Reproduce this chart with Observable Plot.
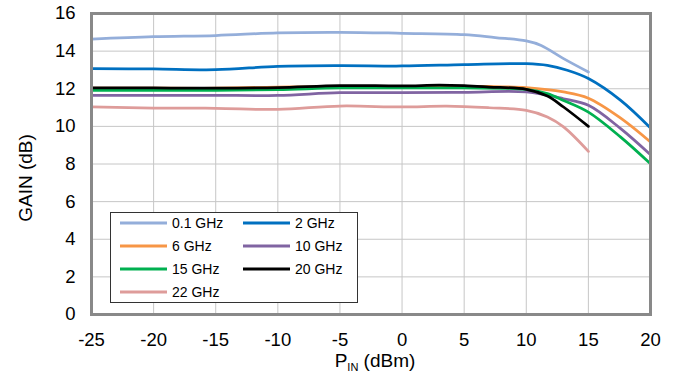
<!DOCTYPE html>
<html>
<head>
<meta charset="utf-8">
<script src="https://cdn.jsdelivr.net/npm/d3@7"></script>
<script src="https://cdn.jsdelivr.net/npm/@observablehq/plot@0.6"></script>
<style>
  html, body { margin: 0; padding: 0; background: #fff; }
  #chart { width: 676px; height: 373px; }
  svg { font-family: "Liberation Sans", Arial, sans-serif; }
</style>
</head>
<body>
<div id="chart"></div>
<script>
// ---- data ----
const seriesNames = ["0.1 GHz", "2 GHz", "6 GHz", "10 GHz", "15 GHz", "20 GHz", "22 GHz"];
const seriesColors = ["#94AEDA", "#0070C0", "#F79646", "#8064A2", "#00B050", "#000000", "#DE9C9A"];

const pin01 = [-25, -20, -15, -10, -5, 0, 5, 7.5, 10, 11.2, 13, 15];
const gain01 = [14.64, 14.77, 14.83, 14.97, 15.0, 14.95, 14.88, 14.72, 14.54, 14.3, 13.6, 12.89];

const pin2 = [-25, -20, -15, -10, -5, 0, 5, 10, 11.7, 13.3, 15, 17.6, 20];
const gain2 = [13.07, 13.05, 13.01, 13.19, 13.23, 13.21, 13.28, 13.33, 13.24, 12.98, 12.54, 11.38, 9.91];

const pin6 = [-25, -20, -15, -10, -5, 0, 5, 7, 10, 13, 15, 17.6, 20];
const gain6 = [12.03, 12.03, 12.03, 12.09, 12.1, 12.1, 12.12, 12.12, 12.06, 11.83, 11.5, 10.44, 9.17];

const pin10 = [-25, -20, -15, -10, -5, 0, 5, 10, 13, 15, 17.6, 20];
const gain10 = [11.65, 11.65, 11.65, 11.65, 11.79, 11.79, 11.81, 11.83, 11.47, 11.12, 9.88, 8.49];

const pin15 = [-25, -20, -15, -10, -5, 0, 5, 10, 11.7, 13, 15, 17.6, 20];
const gain15 = [11.91, 11.92, 11.92, 11.95, 12.04, 12.04, 12.04, 11.97, 11.74, 11.38, 10.76, 9.43, 8.01];

const pin20 = [-25, -20, -15, -10, -5, 0, 3, 5, 7, 10, 11.7, 13, 15];
const gain20 = [12.04, 12.04, 12.03, 12.06, 12.17, 12.15, 12.19, 12.16, 12.09, 11.97, 11.61, 11.03, 10.0];

const pin22 = [-25, -20, -15, -10, -5, 0, 3.6, 7, 10, 11.7, 13, 15];
const gain22 = [11.03, 10.97, 10.96, 10.9, 11.08, 11.03, 11.08, 10.99, 10.85, 10.5, 9.97, 8.67];

const xTicks = [-25, -20, -15, -10, -5, 0, 5, 10, 15, 20];
const yTicks = [0, 2, 4, 6, 8, 10, 12, 14, 16];

// ---- build table ----
const pins = [pin01, pin2, pin6, pin10, pin15, pin20, pin22];
const gains = [gain01, gain2, gain6, gain10, gain15, gain20, gain22];
const rows = [];
seriesNames.forEach((name, i) => {
  pins[i].forEach((p, j) => rows.push({series: name, pin: p, gain: gains[i][j]}));
});

const W = 676, H = 373;
const mL = 91, mR = 26, mT = 13, mB = 59;

const plot = Plot.plot({
  width: W,
  height: H,
  marginLeft: mL,
  marginRight: mR,
  marginTop: mT,
  marginBottom: mB,
  style: {fontFamily: "Liberation Sans, Arial, sans-serif", background: "#fff", color: "#000"},
  x: {domain: [-25, 20]},
  y: {domain: [0, 16]},
  color: {domain: seriesNames, range: seriesColors},
  marks: [
    Plot.gridX(xTicks, {stroke: "#c6c6c6", strokeOpacity: 1, strokeWidth: 1}),
    Plot.gridY(yTicks, {stroke: "#c6c6c6", strokeOpacity: 1, strokeWidth: 1}),
    Plot.line(rows, {x: "pin", y: "gain", z: "series", stroke: "series", curve: "catmull-rom", strokeWidth: 2.75}),
    Plot.frame({stroke: "#898989", strokeWidth: 3}),
    Plot.axisX(xTicks, {tickSize: 0, tickPadding: 18, fontSize: 18.5, tickFormat: d => String(d), label: null}),
    Plot.axisY(yTicks, {tickSize: 0, tickPadding: 16, fontSize: 18.5, tickFormat: d => String(d), label: null})
  ]
});

document.getElementById("chart").appendChild(plot);

// ---- axis titles ----
const svg = d3.select(plot);
svg.append("text")
  .attr("transform", "translate(31.5,178) rotate(-90)")
  .attr("text-anchor", "middle")
  .attr("font-size", 19)
  .attr("fill", "#000")
  .text("GAIN (dB)");

const xt = svg.append("text")
  .attr("x", 375)
  .attr("y", 367)
  .attr("text-anchor", "middle")
  .attr("font-size", 19)
  .attr("fill", "#000");
xt.append("tspan").text("P");
xt.append("tspan").attr("font-size", 11).attr("dy", 4).text("IN");
xt.append("tspan").attr("dy", -4).text(" (dBm)");

// ---- legend ----
const lg = svg.append("g");
lg.append("rect")
  .attr("x", 110.5).attr("y", 212.5).attr("width", 247).attr("height", 90)
  .attr("fill", "#fff").attr("stroke", "#333").attr("stroke-width", 1);
const rowY = [223, 246, 269, 292];
const colX = [120, 243];
seriesNames.forEach((name, i) => {
  const r = Math.floor(i / 2), c = i % 2;
  const x0 = colX[c], y0 = rowY[r];
  lg.append("line")
    .attr("x1", x0).attr("x2", x0 + 47).attr("y1", y0).attr("y2", y0)
    .attr("stroke", seriesColors[i]).attr("stroke-width", 3);
  lg.append("text")
    .attr("x", x0 + 52).attr("y", y0).attr("dy", "0.36em")
    .attr("text-anchor", "start")
    .attr("font-size", 14).attr("fill", "#000")
    .text(name);
});
</script>
</body>
</html>
